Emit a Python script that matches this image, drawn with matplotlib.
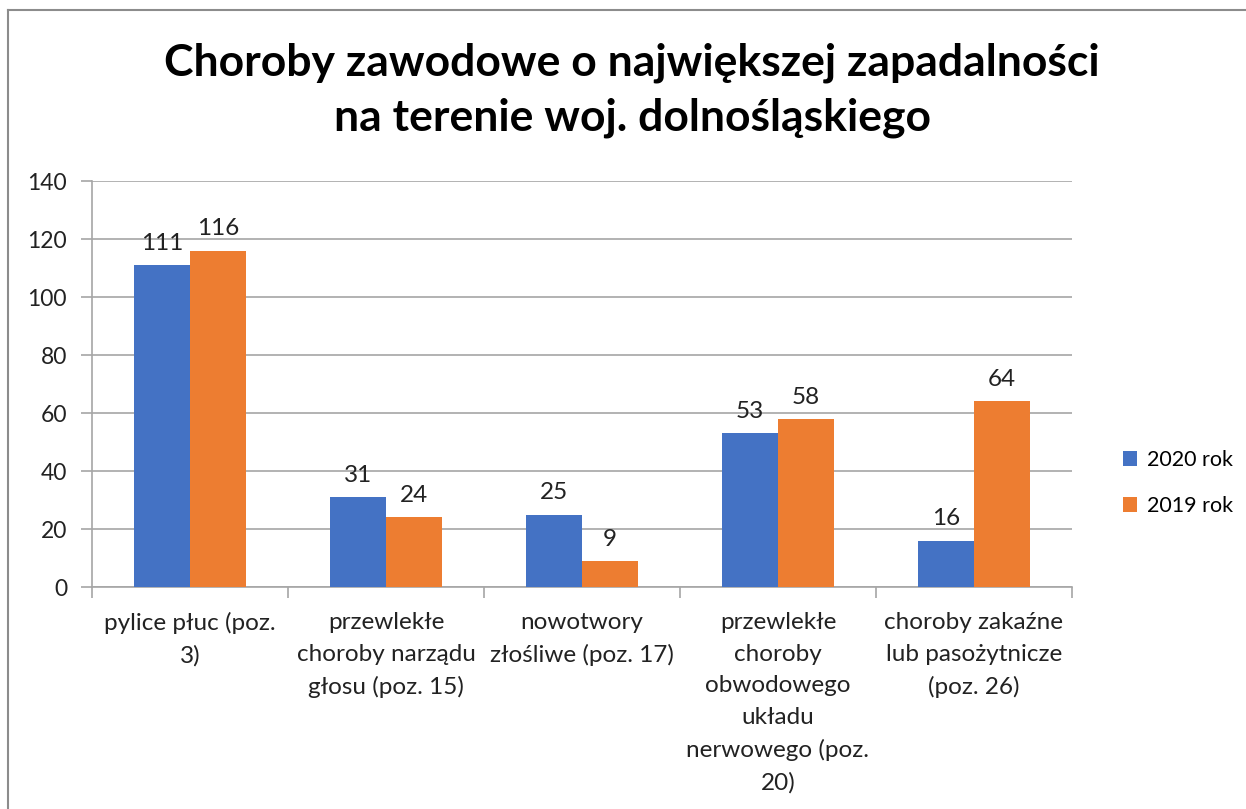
import matplotlib
matplotlib.use("Agg")
import matplotlib.pyplot as plt
import numpy as np
from matplotlib.lines import Line2D

categories = [
    "pylice płuc (poz.\n3)",
    "przewlekłe\nchoroby narządu\ngłosu (poz. 15)",
    "nowotwory\nzłośliwe (poz. 17)",
    "przewlekłe\nchoroby\nobwodowego\nukładu\nnerwowego (poz.\n20)",
    "choroby zakaźne\nlub pasożytnicze\n(poz. 26)",
]
values_2020 = [111, 31, 25, 53, 16]
values_2019 = [116, 24, 9, 58, 64]
series_names = ["2020 rok", "2019 rok"]
colors = ["#4472C4", "#ED7D31"]
yticks = [0, 20, 40, 60, 80, 100, 120, 140]

plt.rcParams['font.family'] = ['Lato', 'DejaVu Sans']

W, H = 1246, 809
fig = plt.figure(figsize=(W / 100, H / 100), dpi=100)
ax = fig.add_axes([92 / W, 1 - 587 / H, (1072 - 92) / W, (587 - 181) / H])

x = np.arange(len(categories))
bw = 56 / 196
b1 = ax.bar(x - bw / 2, values_2020, bw, color=colors[0], label=series_names[0], zorder=3)
b2 = ax.bar(x + bw / 2, values_2019, bw, color=colors[1], label=series_names[1], zorder=3)

for bars, vals in ((b1, values_2020), (b2, values_2019)):
    for r, v in zip(bars, vals):
        ax.annotate(str(v), (r.get_x() + r.get_width() / 2, v), xytext=(0, 8),
                    textcoords="offset points", ha="center", va="bottom",
                    fontsize=17.5, color="#222222")

ax.set_xlim(-0.5, len(categories) - 0.5)
ax.set_ylim(0, 140)
ax.set_yticks(yticks)
ax.set_yticklabels([str(t) for t in yticks], fontsize=16.5, color="#222222")
ax.yaxis.grid(True, color="#a6a6a6", linewidth=1.2, zorder=0)
ax.set_axisbelow(True)

ax.set_xticks(x)
ax.set_xticklabels(categories, fontsize=17.5, color="#222222", linespacing=1.62, va="top")
ax.tick_params(axis="x", length=0, pad=18)
ax.set_xticks(np.arange(-0.5, len(categories)), minor=True)
ax.tick_params(axis="x", which="minor", length=8, color="#a6a6a6", width=1.2)
ax.tick_params(axis="y", length=8, color="#a6a6a6", width=1.2, pad=10)

for s in ("top", "right"):
    ax.spines[s].set_visible(False)
ax.spines["left"].set_color("#a6a6a6")
ax.spines["left"].set_linewidth(1.2)
ax.spines["bottom"].set_color("#a6a6a6")
ax.spines["bottom"].set_linewidth(1.2)

fig.text(632 / W, 1 - 90 / H, "Choroby zawodowe o największej zapadalności\nna terenie woj. dolnośląskiego",
         ha="center", va="center", fontsize=32, fontweight="bold", linespacing=1.45)

leg = fig.legend(handles=[b1, b2], labels=series_names, loc="center left",
                 bbox_to_anchor=(1104 / W, 1 - 483 / H), frameon=False,
                 fontsize=15.5, handlelength=0.65, handleheight=0.65,
                 labelspacing=1.2, handletextpad=0.45)

# chart border (left and top visible in reference)
fig.add_artist(Line2D([8 / W, 8 / W], [0, 1 - 10 / H], color="#8c8c8c", linewidth=1.5))
fig.add_artist(Line2D([8 / W, 1], [1 - 10 / H, 1 - 10 / H], color="#8c8c8c", linewidth=1.5))

fig.savefig("out.png", dpi=100)
